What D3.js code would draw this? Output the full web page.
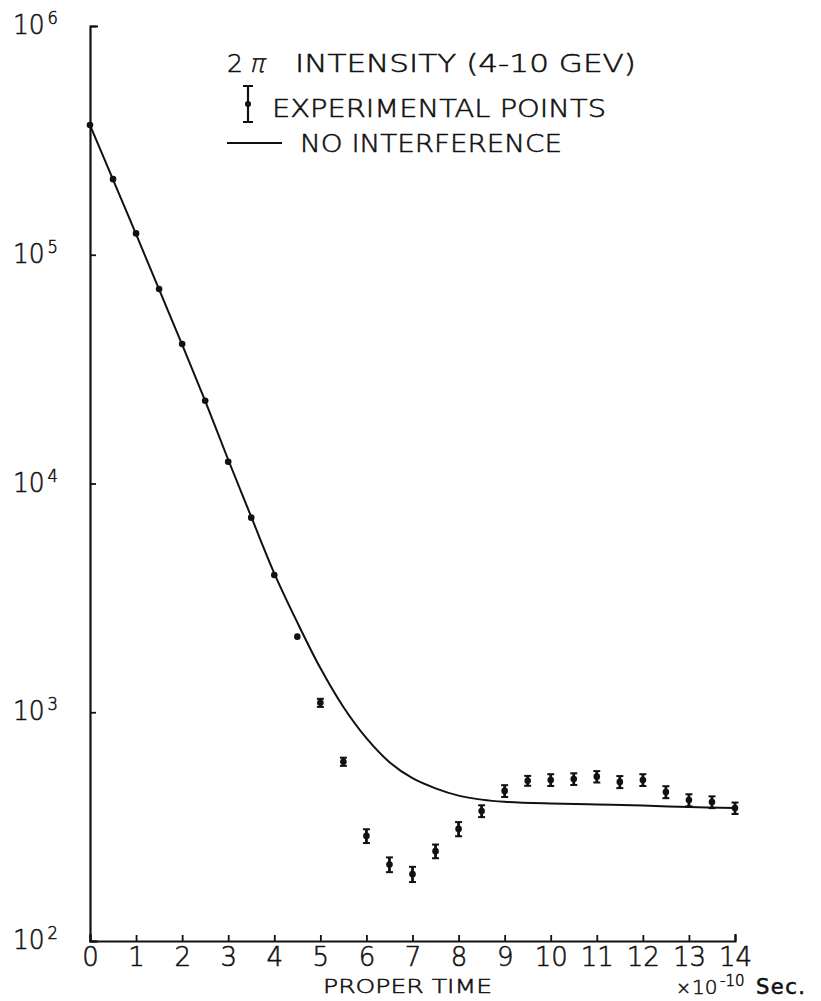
<!DOCTYPE html>
<html>
<head>
<meta charset="utf-8">
<script src="https://cdn.jsdelivr.net/npm/d3@7"></script>
<style>
  html, body { margin: 0; padding: 0; background: #fff; }
  svg { display: block; }
  text { font-family: "DejaVu Sans", "Liberation Sans", sans-serif; font-weight: 200;
         fill: #111; stroke: #111; stroke-width: 0.55px; }
</style>
</head>
<body>
<svg id="chart" width="821" height="1001"></svg>
<script>
// Proper time (units of 1e-10 s) of each measured bin
const timeSteps = [0, 0.5, 1, 1.5, 2, 2.5, 3, 3.5, 4, 4.5, 5, 5.5, 6, 6.5, 7,
                   7.5, 8, 8.5, 9, 9.5, 10, 10.5, 11, 11.5, 12, 12.5, 13, 13.5, 14];
// Measured 2π intensity per bin
const intensity = [369000, 214000, 124000, 70800, 40700, 23000, 12450, 7090, 3980, 2140,
                   1100, 608, 288, 216, 196, 247, 309, 370, 453, 502,
                   506, 511, 523, 496, 506, 448, 413, 405, 381];
// Statistical error on each bin (0 where the bar is hidden by the dot)
const intensityErr = [0, 0, 0, 0, 0, 0, 0, 0, 0, 0,
                      45, 25, 20, 16, 15, 17, 22, 22, 27, 25,
                      30, 30, 30, 30, 30, 27, 25, 24, 22];

// Expected intensity without K1-K2 interference
const curveTimes  = [0, 0.5, 1, 1.5, 2, 2.5, 3, 3.5, 4, 4.5, 5, 5.5, 6, 6.5, 7,
                     7.5, 8, 8.5, 9, 10, 11, 12, 13, 14];
const curveValues = [369000, 213000, 123000, 70500, 40500, 23000, 12700, 7150, 4050, 2470,
                     1560, 1054, 770, 605, 515, 465, 432, 415, 406, 399, 395, 391, 385, 381];

// Axis ticks and labels
const xTicks = [0, 1, 2, 3, 4, 5, 6, 7, 8, 9, 10, 11, 12, 13, 14];
const yTicks = [100, 1000, 10000, 100000, 1000000];
const yExponents = ["2", "3", "4", "5", "6"];

const legendTitle = "INTENSITY  (4-10 GEV)";
const legendPoints = "EXPERIMENTAL  POINTS";
const legendCurve = "NO  INTERFERENCE";

const svg = d3.select("#chart");
const ink = "#111";

const x = d3.scaleLinear().domain([0, 14]).range([90, 735]);
const y = d3.scaleLog().domain([100, 1e6]).range([941, 26]);

// Bottom axis: ticks point up into the plot
const xAxis = svg.append("g")
  .attr("transform", `translate(0,${y(100)})`)
  .call(d3.axisBottom(x).tickValues(xTicks).tickSizeInner(-6).tickSizeOuter(-7)
        .tickPadding(12).tickFormat(d3.format("d")));
xAxis.select(".domain").attr("stroke", ink).attr("stroke-width", 2.2);
xAxis.selectAll(".tick line").attr("stroke", ink).attr("stroke-width", 1.8);
xAxis.selectAll(".tick text")
  .attr("fill", ink).style("font-size", "26px").attr("dy", "0.72em")
  .attr("y", 6);

// Left axis: ticks point right into the plot, labels drawn separately
const yAxis = svg.append("g")
  .attr("transform", `translate(${x(0)},0)`)
  .call(d3.axisLeft(y).tickValues(yTicks).tickSizeInner(-6).tickSizeOuter(-8)
        .tickFormat(""));
yAxis.select(".domain").attr("stroke", ink).attr("stroke-width", 2.2);
yAxis.selectAll(".tick line").attr("stroke", ink).attr("stroke-width", 1.8);

// Power-of-ten labels
const yLab = svg.append("g");
yTicks.forEach((v, i) => {
  const t = yLab.append("text").attr("x", 13).attr("y", y(v) + 8)
    .attr("textLength", 45).attr("lengthAdjust", "spacingAndGlyphs")
    .style("font-size", "26px");
  t.append("tspan").text("10");
  t.append("tspan").attr("dx", 3).attr("dy", -10).style("font-size", "17px").text(yExponents[i]);
});

// Axis title and unit
svg.append("text").attr("x", 323).attr("y", 993)
  .attr("textLength", 169).attr("lengthAdjust", "spacingAndGlyphs")
  .style("font-size", "20px").text("PROPER  TIME");

const unit = svg.append("text").attr("y", 994);
unit.append("tspan").attr("x", 676).style("font-size", "18px").text("×");
unit.append("tspan").attr("x", 692).style("font-size", "20px").text("10");
unit.append("tspan").attr("x", 720).attr("dy", -8).style("font-size", "15px").text("-10");
unit.append("tspan").attr("x", 756).attr("dy", 8).style("font-size", "21px")
  .style("font-weight", "normal").style("letter-spacing", "1.5px").text("Sec.");

// Expected curve
const line = d3.line()
  .x((d, i) => x(curveTimes[i]))
  .y(d => y(d))
  .curve(d3.curveCatmullRom.alpha(0.5));
svg.append("path").datum(curveValues)
  .attr("d", line)
  .attr("fill", "none").attr("stroke", ink).attr("stroke-width", 2);

// Experimental points with error bars
const pts = svg.append("g");
timeSteps.forEach((t, i) => {
  const cx = x(t), v = intensity[i], e = intensityErr[i];
  if (e > 0) {
    const y0 = y(v + e), y1 = y(v - e);
    pts.append("line").attr("x1", cx).attr("x2", cx).attr("y1", y0).attr("y2", y1)
      .attr("stroke", ink).attr("stroke-width", 2.8);
    [y0, y1].forEach(yy => pts.append("line")
      .attr("x1", cx - 3.5).attr("x2", cx + 3.5).attr("y1", yy).attr("y2", yy)
      .attr("stroke", ink).attr("stroke-width", 2));
  }
  pts.append("circle").attr("cx", cx).attr("cy", y(v)).attr("r", 3.3).attr("fill", ink);
});

// Legend
const lg = svg.append("g");
lg.append("text").attr("x", 227).attr("y", 72).style("font-size", "25px").text("2");
lg.append("text").attr("transform", "translate(249,72) skewX(-14)")
  .style("font-size", "25px").text("π");
lg.append("text").attr("x", 295).attr("y", 72)
  .attr("textLength", 341).attr("lengthAdjust", "spacingAndGlyphs")
  .style("font-size", "25px").text(legendTitle);

// error-bar glyph
lg.append("line").attr("x1", 248).attr("x2", 248).attr("y1", 86).attr("y2", 122)
  .attr("stroke", ink).attr("stroke-width", 2.2);
[86, 122].forEach(yy => lg.append("line").attr("x1", 243).attr("x2", 253)
  .attr("y1", yy).attr("y2", yy).attr("stroke", ink).attr("stroke-width", 2));
lg.append("circle").attr("cx", 248).attr("cy", 104).attr("r", 3).attr("fill", ink);
lg.append("text").attr("x", 272).attr("y", 117)
  .attr("textLength", 334).attr("lengthAdjust", "spacingAndGlyphs")
  .style("font-size", "25px").text(legendPoints);

lg.append("line").attr("x1", 227).attr("x2", 282).attr("y1", 143).attr("y2", 143)
  .attr("stroke", ink).attr("stroke-width", 2);
lg.append("text").attr("x", 300).attr("y", 152)
  .attr("textLength", 262).attr("lengthAdjust", "spacingAndGlyphs")
  .style("font-size", "25px").text(legendCurve);
</script>
</body>
</html>
